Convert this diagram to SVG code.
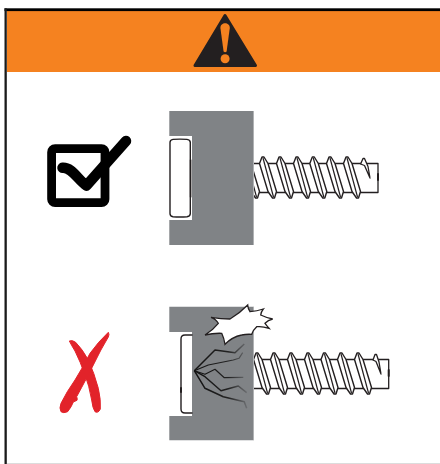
<svg xmlns="http://www.w3.org/2000/svg" xmlns:xlink="http://www.w3.org/1999/xlink" width="440" height="464" viewBox="0 0 440 464">
<style>
.ink{stroke:#231f20;fill:none;stroke-linejoin:round;stroke-linecap:round}
.block{fill:#808386}
</style>
<defs>
<g id="thread">
<path d="M-3.5,6.5 L-1,0 L1,0 L5,6.5 L13.5,34.5 L11.5,41 L9.5,41 L5,34.5 Z" fill="#fff" stroke="#231f20" stroke-width="1.4" stroke-linejoin="round"/>
<path d="M0,1 L10.5,40" fill="none" stroke="#231f20" stroke-width="1.2"/>
</g>
<linearGradient id="fade" gradientUnits="userSpaceOnUse" x1="194" y1="0" x2="247" y2="0">
<stop offset="0" stop-color="#111"/><stop offset=".65" stop-color="#222"/><stop offset="1" stop-color="#6b6d70"/>
</linearGradient>
</defs>
<rect width="440" height="464" fill="#fff"/>
<g id="frame">
<rect x="7" y="11" width="433" height="61" fill="#f58220"/>
<rect x="4.5" y="8.3" width="435.5" height="2.8" fill="#000"/>
<rect x="4.5" y="8.3" width="2.3" height="455.7" fill="#1a1a1a"/>
<rect x="7" y="463" width="433" height="1" fill="#dcdcdc"/>
</g>
<g id="warning-icon">
<path d="M225,15.5 L255.5,65.5 L195,65.5 Z" fill="#231f20" stroke="#231f20" stroke-width="3" stroke-linejoin="round"/>
<path d="M220.4,28 C220.4,21.8 229.8,21.8 229.8,28 L226.6,51.5 Q225.1,53 223.6,51.5 Z" fill="#f58220"/>
<circle cx="225.1" cy="58.7" r="4.5" fill="#f58220"/>
</g>
<g id="check-icon">
<rect x="51.6" y="148.7" width="53.4" height="54" rx="3.5" fill="#fff" stroke="#000" stroke-width="8.8"/>
<path d="M62.5,167.8 C72,167 78,180 86.5,185.5 L126,141" fill="none" stroke="#000" stroke-width="10.5" stroke-linecap="round" stroke-linejoin="round"/>
</g>
<g id="good-screw">
<rect x="240" y="163.5" width="138" height="29" fill="#fff"/>
<path class="ink" stroke-width="1.3" d="M240,163.5 H378 V192.5 H240"/>
<path class="ink" stroke-width="2" d="M378,174 V180"/>
<use xlink:href="#thread" href="#thread" x="246" y="157"/>
<use xlink:href="#thread" href="#thread" x="263" y="157"/>
<use xlink:href="#thread" href="#thread" x="280" y="157"/>
<use xlink:href="#thread" href="#thread" x="297" y="157"/>
<use xlink:href="#thread" href="#thread" x="313.3" y="157"/>
<use xlink:href="#thread" href="#thread" x="330" y="157"/>
<use xlink:href="#thread" href="#thread" x="347" y="157"/>
<path d="M360.6,164 L363,158.5 L364.5,158.5 L368,166.5 L370,178 L364.5,165.5 Z" fill="#fff" stroke="#231f20" stroke-width="1.3" stroke-linejoin="round"/>
</g>
<g id="good-block">
<path class="block" d="M169.3,111 H253.3 V245 H169.3 V220 H192 V136 H169.3 Z"/>
<rect x="253" y="111" width="1" height="134" fill="#b0b2b4"/>
<path d="M170,142.5 Q170,139.8 173,139.4 Q180,138.8 187,139.4 Q190.3,139.8 190.3,142.5 V213.5 Q190.3,216.3 187,216.7 Q180,217.3 173,216.7 Q170,216.3 170,213.5 Z" fill="#fff" stroke="#231f20" stroke-width="1.4"/>
<path class="ink" stroke-width="1.6" d="M190.6,160 V197"/>
</g>
<g id="x-icon">
<path transform="translate(45 325) scale(.3333)" fill="#e2232a" stroke="#e2232a" stroke-width="3" stroke-linejoin="round" d="M73,48 Q82,44 92,52 Q112,72 130,105 Q148,145 160,190 Q168,225 166,252 Q160,266 150,260 Q143,250 140,225 Q132,180 120,150 Q106,110 90,78 Q80,62 73,48 Z M190,22 Q194,28 190,36 Q168,72 145,120 Q125,160 95,215 Q98,222 96,226 L85,231 Q80,245 68,260 Q55,266 48,260 Q42,250 48,235 Q65,200 90,165 Q115,125 135,85 Q160,50 190,22 Z"/>
</g>
<g id="bad-screw">
<rect x="240" y="359.5" width="149" height="29" fill="#fff"/>
<path class="ink" stroke-width="1.3" d="M240,359.5 H388.7 V388.5 H240"/>
<path class="ink" stroke-width="2" d="M388.7,370 V376"/>
<use xlink:href="#thread" href="#thread" x="257" y="353"/>
<use xlink:href="#thread" href="#thread" x="274" y="353"/>
<use xlink:href="#thread" href="#thread" x="291" y="353"/>
<use xlink:href="#thread" href="#thread" x="308" y="353"/>
<use xlink:href="#thread" href="#thread" x="324.5" y="353"/>
<use xlink:href="#thread" href="#thread" x="341" y="353"/>
<use xlink:href="#thread" href="#thread" x="358" y="353"/>
<path d="M373,360 L375,354.5 L376.5,354.5 L379,362 L381,374 L376,361.5 Z" fill="#fff" stroke="#231f20" stroke-width="1.3" stroke-linejoin="round"/>
</g>
<g id="bad-block">
<path class="block" d="M169.3,306.7 H253.3 V440.3 H169.3 V416 H192 V332 H169.3 Z"/>
<rect x="253" y="306.7" width="1" height="133.6" fill="#b0b2b4"/>
<path class="ink" stroke-width="1.4" d="M192,335 H185 Q181,335 181,339 V409 Q181,413 185,413 H192"/>
<path class="ink" stroke-width="2" d="M181,388 V392"/>
</g>
<g id="crack">
<path d="M247.7,305 Q248,309 250,311.7 Q257,311 263.3,309 Q261,312 260.7,315 Q267,318 272.7,319 Q268,320 265,323.3 Q267,326 269,328.3 Q262,326 256.7,326.7 Q253,330 251.7,334.3 Q246,334 241.7,335 Q232,337 225,344.3 Q224,338 221.7,333.3 Q213,333 205,335 Q213,330 218.3,323.3 Q216,319 211,317.3 Q221,319 230,319 Q240,313 247.7,305 Z" fill="#fff" stroke="#231f20" stroke-width="1.3" stroke-linejoin="miter"/>
<g fill="none" stroke="url(#fade)" stroke-linejoin="round">
<path stroke-width="1.5" d="M194.3,370.7 L215,350 L235,352.7 L244.3,344"/>
<path stroke-width="1.2" d="M194.3,370.7 L208.3,365 L233.3,360 L239,358.3 L242.7,352.7"/>
<path stroke-width="1.2" d="M194.3,370.7 L205,374.3 L215,369.3 L224.3,377.7 L243.3,377.3"/>
<path stroke-width="1.5" d="M194.3,370.7 L205,376.7 L221,390.7 L238.3,386 L246.7,392.7"/>
<path stroke-width="1.5" d="M194.3,370.7 L205,388.3 L223.3,396.7 L244.3,401.7 L246.7,408.3"/>
</g>
</g>
</svg>
